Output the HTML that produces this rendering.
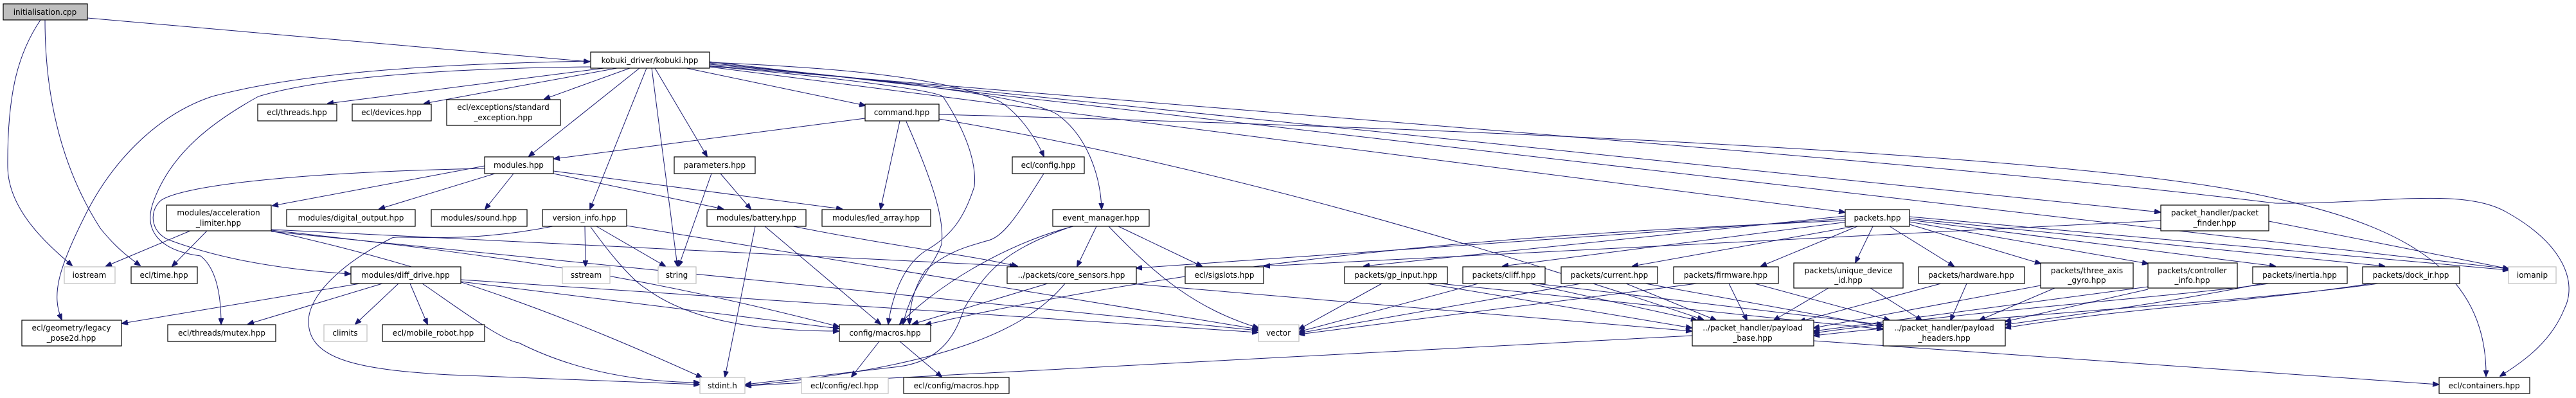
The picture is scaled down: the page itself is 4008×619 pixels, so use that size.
<!DOCTYPE html>
<html><head><meta charset="utf-8"><style>
html,body{margin:0;padding:0;background:#fff;}
svg{display:block;}
text{font-family:"DejaVu Sans","Liberation Sans",sans-serif;font-size:12px;fill:#000;text-anchor:middle;}
.n{fill:#fff;stroke:#000;stroke-width:1.2;}
.g{fill:#fff;stroke:#bfbfbf;stroke-width:1.2;}
.r{fill:#bfbfbf;stroke:#000;stroke-width:1.2;}
path{fill:none;stroke:#191970;stroke-width:1;marker-end:url(#a);}
</style></head><body>
<svg width="4008" height="619" viewBox="0 0 4008 619" xmlns="http://www.w3.org/2000/svg">
<defs><marker id="a" markerWidth="10" markerHeight="8" refX="9" refY="4" orient="auto" markerUnits="userSpaceOnUse"><polygon points="0,0 10,4 0,8" fill="#191970" stroke="#191970"/></marker></defs>
<!-- edges -->
<path d="M136,28 L917,96"/>
<path d="M63,31 C30,80 11,140 12,260 C13,330 80,385 112,413"/>
<path d="M70,31 C70,150 95,260 156,355 C180,385 200,400 218,413"/>
<path d="M919,95 C700,99 480,110 330,150 C240,180 170,257 130,340 C90,420 80,460 96,497"/>
<path d="M919,104 C700,106 500,120 402,150 C330,190 268,237 240,310 C220,360 250,390 312,398 C340,420 344,470 344,504"/>
<path d="M940,106 L510,161"/>
<path d="M960,106 L660,161"/>
<path d="M980,106 L847,154"/>
<path d="M995,106 L823,243"/>
<path d="M1006,106 L918,325"/>
<path d="M1014,106 L1054,414"/>
<path d="M1019,106 L1100,243"/>
<path d="M1068,106 L1346,164"/>
<path d="M1104,97 C1300,105 1470,120 1556,158 C1590,180 1614,220 1624,243"/>
<path d="M1104,100 C1400,126 1600,150 1645,178 C1690,210 1712,270 1714,325"/>
<path d="M1104,103 C1300,120 1450,140 1467,150 C1500,200 1520,250 1516,290 C1500,340 1480,367 1440,390 C1410,410 1390,450 1382,504"/>
<path d="M1104,104 L2870,330"/>
<path d="M1104,98 L3361,330"/>
<path d="M1104,96 L3903,418"/>
<path d="M1461,178 C2300,200 3200,240 3500,300 C3700,340 3870,400 3868,585"/>
<path d="M1104,102 C2000,180 3000,250 3540,316 C3700,318 3830,290 3900,330 C3990,380 4010,440 3990,480 C3970,530 3930,560 3890,585"/>
<path d="M1346,184 L862,247"/>
<path d="M1400,188 L1370,325"/>
<path d="M1410,189 C1450,280 1470,340 1465,380 C1450,420 1420,440 1405,504"/>
<path d="M1461,185 C1900,260 2300,380 2650,497"/>
<path d="M754,258 L424,320"/>
<path d="M770,270 L590,325"/>
<path d="M799,270 L755,325"/>
<path d="M861,270 L1125,325"/>
<path d="M861,266 L1310,325"/>
<path d="M754,262 C450,268 280,290 250,312 C230,330 235,365 268,375 C350,405 450,420 545,426"/>
<path d="M1107,270 L1056,414"/>
<path d="M1121,270 L1168,325"/>
<path d="M1624,270 C1580,340 1560,370 1534,375 C1500,385 1476,391 1440,420 C1420,450 1415,480 1415,504"/>
<path d="M910,352 L911,414"/>
<path d="M928,352 L1035,414"/>
<path d="M919,353 C960,410 990,440 1004,448 C1060,490 1150,515 1305,515"/>
<path d="M860,352 C720,380 620,365 610,370 C530,410 480,460 480,500 C480,560 560,575 700,583 L1088,598"/>
<path d="M975,351 L1957,512"/>
<path d="M1175,352 L1128,586"/>
<path d="M1190,352 L1370,504"/>
<path d="M1229,351 C1400,385 1500,395 1583,414"/>
<path d="M1706,352 L1676,414"/>
<path d="M1740,352 L1870,414"/>
<path d="M1725,352 C1800,430 1860,480 1958,510"/>
<path d="M1670,352 C1560,380 1450,450 1400,504"/>
<path d="M1668,352 C1560,390 1534,422 1500,480 C1489,513 1470,560 1400,570 L1160,598"/>
<path d="M1630,441 L1420,504"/>
<path d="M1657,441 C1600,510 1480,570 1160,600"/>
<path d="M1758,441 L2632,515"/>
<path d="M296,359 L165,414"/>
<path d="M322,359 L268,414"/>
<path d="M422,357 L1580,414"/>
<path d="M422,360 L1957,514"/>
<path d="M422,359 C700,420 900,500 1092,587"/>
<path d="M422,358 C800,400 1000,430 1305,508"/>
<path d="M560,441 L190,503"/>
<path d="M595,441 L386,504"/>
<path d="M620,441 L553,504"/>
<path d="M638,441 L665,504"/>
<path d="M657,441 C700,470 780,530 807,533 C900,580 1000,594 1088,595"/>
<path d="M717,435 L1957,517"/>
<path d="M717,438 L1305,511"/>
<path d="M2150,441 L2021,512"/>
<path d="M2220,441 L2632,510"/>
<path d="M2240,441 L2929,512"/>
<path d="M2300,441 L2021,516"/>
<path d="M2380,441 L2640,498"/>
<path d="M2390,441 L2929,505"/>
<path d="M2460,441 L2021,518"/>
<path d="M2530,441 L2670,498"/>
<path d="M2560,441 L2929,508"/>
<path d="M2640,441 L2021,520"/>
<path d="M2690,441 L2718,498"/>
<path d="M2730,441 L2940,498"/>
<path d="M2845,448 L2760,498"/>
<path d="M2910,448 L2990,498"/>
<path d="M3020,441 L2800,500"/>
<path d="M3060,441 L3035,498"/>
<path d="M3175,444 L2822,510"/>
<path d="M3197,448 L3080,498"/>
<path d="M3342,446 L2822,515"/>
<path d="M3342,450 L3120,500"/>
<path d="M3530,441 C3400,460 3100,480 2822,518"/>
<path d="M3520,441 C3400,465 3300,480 3120,505"/>
<path d="M3700,441 C3500,470 3100,490 2822,522"/>
<path d="M3690,441 C3500,470 3300,480 3120,510"/>
<path d="M2871,340 L1768,417"/>
<path d="M2871,336 L2122,414"/>
<path d="M2875,345 L2338,414"/>
<path d="M2885,352 L2540,414"/>
<path d="M2890,352 L2740,414"/>
<path d="M2914,352 L2887,408"/>
<path d="M2940,352 L3040,414"/>
<path d="M2971,349 L3175,410"/>
<path d="M2971,345 L3342,410"/>
<path d="M2971,342 L3540,414"/>
<path d="M2971,340 L3710,414"/>
<path d="M2971,337 L3903,420"/>
<path d="M2871,343 C2500,360 2000,380 1440,505"/>
<path d="M3530,344 L3903,418"/>
<path d="M3362,343 C2800,371 2300,395 1967,414"/>
<path d="M2633,522 L1160,600"/>
<path d="M2822,530 L3794,598"/>
<path d="M1368,531 L1325,586"/>
<path d="M1400,531 L1465,586"/>
<!-- nodes -->
<rect class="r" x="5" y="6" width="131" height="25"/><text x="70" y="23">initialisation.cpp</text>
<rect class="n" x="919" y="81" width="185" height="25"/><text x="1011" y="98">kobuki_driver/kobuki.hpp</text>
<rect class="n" x="401" y="162" width="123" height="26"/><text x="462" y="179">ecl/threads.hpp</text>
<rect class="n" x="548" y="162" width="123" height="26"/><text x="609" y="179">ecl/devices.hpp</text>
<rect class="n" x="695" y="155" width="177" height="40"/><text x="783" y="171">ecl/exceptions/standard</text><text x="783" y="187">_exception.hpp</text>
<rect class="n" x="1346" y="162" width="115" height="26"/><text x="1403" y="179">command.hpp</text>
<rect class="n" x="754" y="244" width="107" height="26"/><text x="807" y="261">modules.hpp</text>
<rect class="n" x="1049" y="244" width="126" height="26"/><text x="1112" y="261">parameters.hpp</text>
<rect class="n" x="1575" y="244" width="112" height="26"/><text x="1631" y="261">ecl/config.hpp</text>
<rect class="n" x="259" y="319" width="163" height="40"/><text x="340" y="335">modules/acceleration</text><text x="340" y="351">_limiter.hpp</text>
<rect class="n" x="446" y="326" width="200" height="26"/><text x="546" y="343">modules/digital_output.hpp</text>
<rect class="n" x="671" y="326" width="149" height="26"/><text x="745" y="343">modules/sound.hpp</text>
<rect class="n" x="844" y="326" width="131" height="26"/><text x="909" y="343">version_info.hpp</text>
<rect class="n" x="1100" y="326" width="154" height="26"/><text x="1177" y="343">modules/battery.hpp</text>
<rect class="n" x="1279" y="326" width="169" height="26"/><text x="1363" y="343">modules/led_array.hpp</text>
<rect class="n" x="1638" y="326" width="150" height="26"/><text x="1713" y="343">event_manager.hpp</text>
<rect class="n" x="2871" y="326" width="100" height="26"/><text x="2921" y="343">packets.hpp</text>
<rect class="n" x="3362" y="319" width="168" height="40"/><text x="3446" y="335">packet_handler/packet</text><text x="3446" y="351">_finder.hpp</text>
<rect class="g" x="100" y="415" width="79" height="26"/><text x="139" y="432">iostream</text>
<rect class="n" x="204" y="415" width="103" height="26"/><text x="255" y="432">ecl/time.hpp</text>
<rect class="n" x="546" y="415" width="171" height="26"/><text x="631" y="432">modules/diff_drive.hpp</text>
<rect class="g" x="875" y="415" width="74" height="26"/><text x="912" y="432">sstream</text>
<rect class="g" x="1024" y="415" width="59" height="26"/><text x="1053" y="432">string</text>
<rect class="n" x="1567" y="415" width="201" height="26"/><text x="1667" y="432">../packets/core_sensors.hpp</text>
<rect class="n" x="1844" y="415" width="122" height="26"/><text x="1905" y="432">ecl/sigslots.hpp</text>
<rect class="n" x="2092" y="415" width="160" height="26"/><text x="2172" y="432">packets/gp_input.hpp</text>
<rect class="n" x="2276" y="415" width="128" height="26"/><text x="2340" y="432">packets/cliff.hpp</text>
<rect class="n" x="2429" y="415" width="150" height="26"/><text x="2504" y="432">packets/current.hpp</text>
<rect class="n" x="2604" y="415" width="163" height="26"/><text x="2685" y="432">packets/firmware.hpp</text>
<rect class="n" x="2791" y="409" width="170" height="39"/><text x="2876" y="425">packets/unique_device</text><text x="2876" y="440">_id.hpp</text>
<rect class="n" x="2985" y="415" width="165" height="26"/><text x="3067" y="432">packets/hardware.hpp</text>
<rect class="n" x="3175" y="409" width="144" height="39"/><text x="3247" y="425">packets/three_axis</text><text x="3247" y="440">_gyro.hpp</text>
<rect class="n" x="3342" y="409" width="139" height="39"/><text x="3411" y="425">packets/controller</text><text x="3411" y="440">_info.hpp</text>
<rect class="n" x="3505" y="415" width="147" height="26"/><text x="3578" y="432">packets/inertia.hpp</text>
<rect class="n" x="3676" y="415" width="151" height="26"/><text x="3751" y="432">packets/dock_ir.hpp</text>
<rect class="g" x="3903" y="415" width="74" height="26"/><text x="3940" y="432">iomanip</text>
<rect class="n" x="34" y="498" width="155" height="40"/><text x="111" y="514">ecl/geometry/legacy</text><text x="111" y="530">_pose2d.hpp</text>
<rect class="n" x="261" y="505" width="168" height="26"/><text x="345" y="522">ecl/threads/mutex.hpp</text>
<rect class="g" x="504" y="505" width="67" height="26"/><text x="537" y="522">climits</text>
<rect class="n" x="595" y="505" width="159" height="26"/><text x="674" y="522">ecl/mobile_robot.hpp</text>
<rect class="n" x="1306" y="505" width="142" height="26"/><text x="1377" y="522">config/macros.hpp</text>
<rect class="g" x="1958" y="505" width="63" height="26"/><text x="1989" y="522">vector</text>
<rect class="n" x="2633" y="498" width="189" height="40"/><text x="2727" y="514">../packet_handler/payload</text><text x="2727" y="530">_base.hpp</text>
<rect class="n" x="2930" y="498" width="190" height="40"/><text x="3025" y="514">../packet_handler/payload</text><text x="3025" y="530">_headers.hpp</text>
<rect class="g" x="1089" y="587" width="70" height="25"/><text x="1124" y="604">stdint.h</text>
<rect class="g" x="1247" y="587" width="135" height="25"/><text x="1314" y="604">ecl/config/ecl.hpp</text>
<rect class="n" x="1406" y="587" width="164" height="25"/><text x="1488" y="604">ecl/config/macros.hpp</text>
<rect class="n" x="3795" y="587" width="141" height="25"/><text x="3865" y="604">ecl/containers.hpp</text>
</svg>
</body></html>
